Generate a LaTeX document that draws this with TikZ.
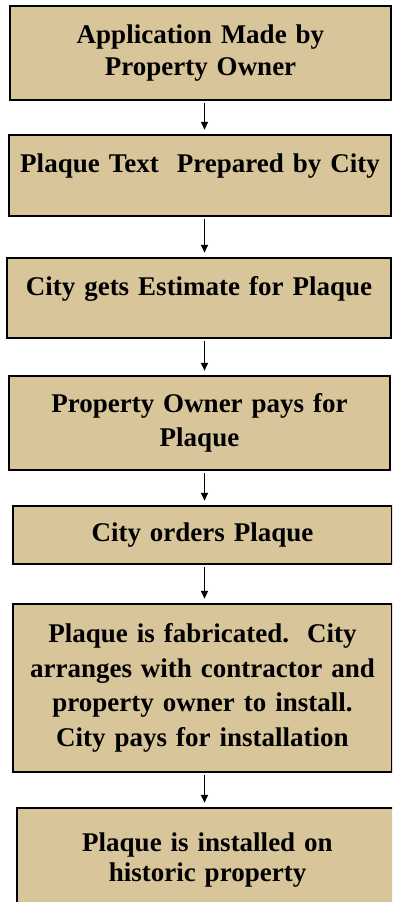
\documentclass[tikz,border=0pt]{standalone}
\usepackage{fontspec}
\setmainfont{Liberation Serif}
\usetikzlibrary{arrows.meta}
\usetikzlibrary{positioning}

\definecolor{plaquetan}{RGB}{217,197,154}
\tikzset{
    stepbox/.style={rectangle,draw=black,line width=2.5pt,fill=plaquetan,
        inner xsep=4pt,inner ysep=2pt,text width=366pt,align=center,
        font=\fontsize{27}{34.5}\selectfont\bfseries},
    raised/.style={text depth=24pt},
    flow/.style={line width=1.5pt,-{Triangle[length=8pt,width=7pt]},
        shorten <=2pt,shorten >=4pt}
}

\begin{document}
\begin{tikzpicture}[x=1pt,y=-1pt]
    \clip (0,0) rectangle (392,902);
    \coordinate (spine) at (204.5,0);
    \node at (200.5,53) [stepbox,minimum width=381,minimum height=94,
        font=\fontsize{27}{32}\selectfont\bfseries] (apply) {Application Made by\\Property Owner};
    \node at (200,175.5) [stepbox,raised,minimum width=382,minimum height=81] (draft) {Plaque Text\ \ Prepared by City};
    \node at (199,298) [stepbox,raised,minimum width=384,minimum height=80] (estimate) {City gets Estimate for Plaque};
    \node at (199.5,423) [stepbox,minimum width=381,minimum height=94] (payment) {Property Owner pays for\\Plaque};
    \node at (202.5,535) [stepbox,minimum width=379,minimum height=58] (order) {City orders Plaque};
    \node at (202.5,688) [stepbox,minimum width=379,minimum height=168] (fabricate) {Plaque is fabricated.\ \ City\\arranges with contractor and\\property owner to install.\\City pays for installation};
    \node at (207.5,859.7) [stepbox,minimum width=381,minimum height=103.4,
        font=\fontsize{27}{30}\selectfont\bfseries] (install) {Plaque is installed on\\historic property};
    \foreach \a/\b in {apply/draft,draft/estimate,estimate/payment,payment/order,order/fabricate,fabricate/install} {
        \draw[flow] (\a.south -| spine) -- (\b.north -| spine);
    }
\end{tikzpicture}
\end{document}
